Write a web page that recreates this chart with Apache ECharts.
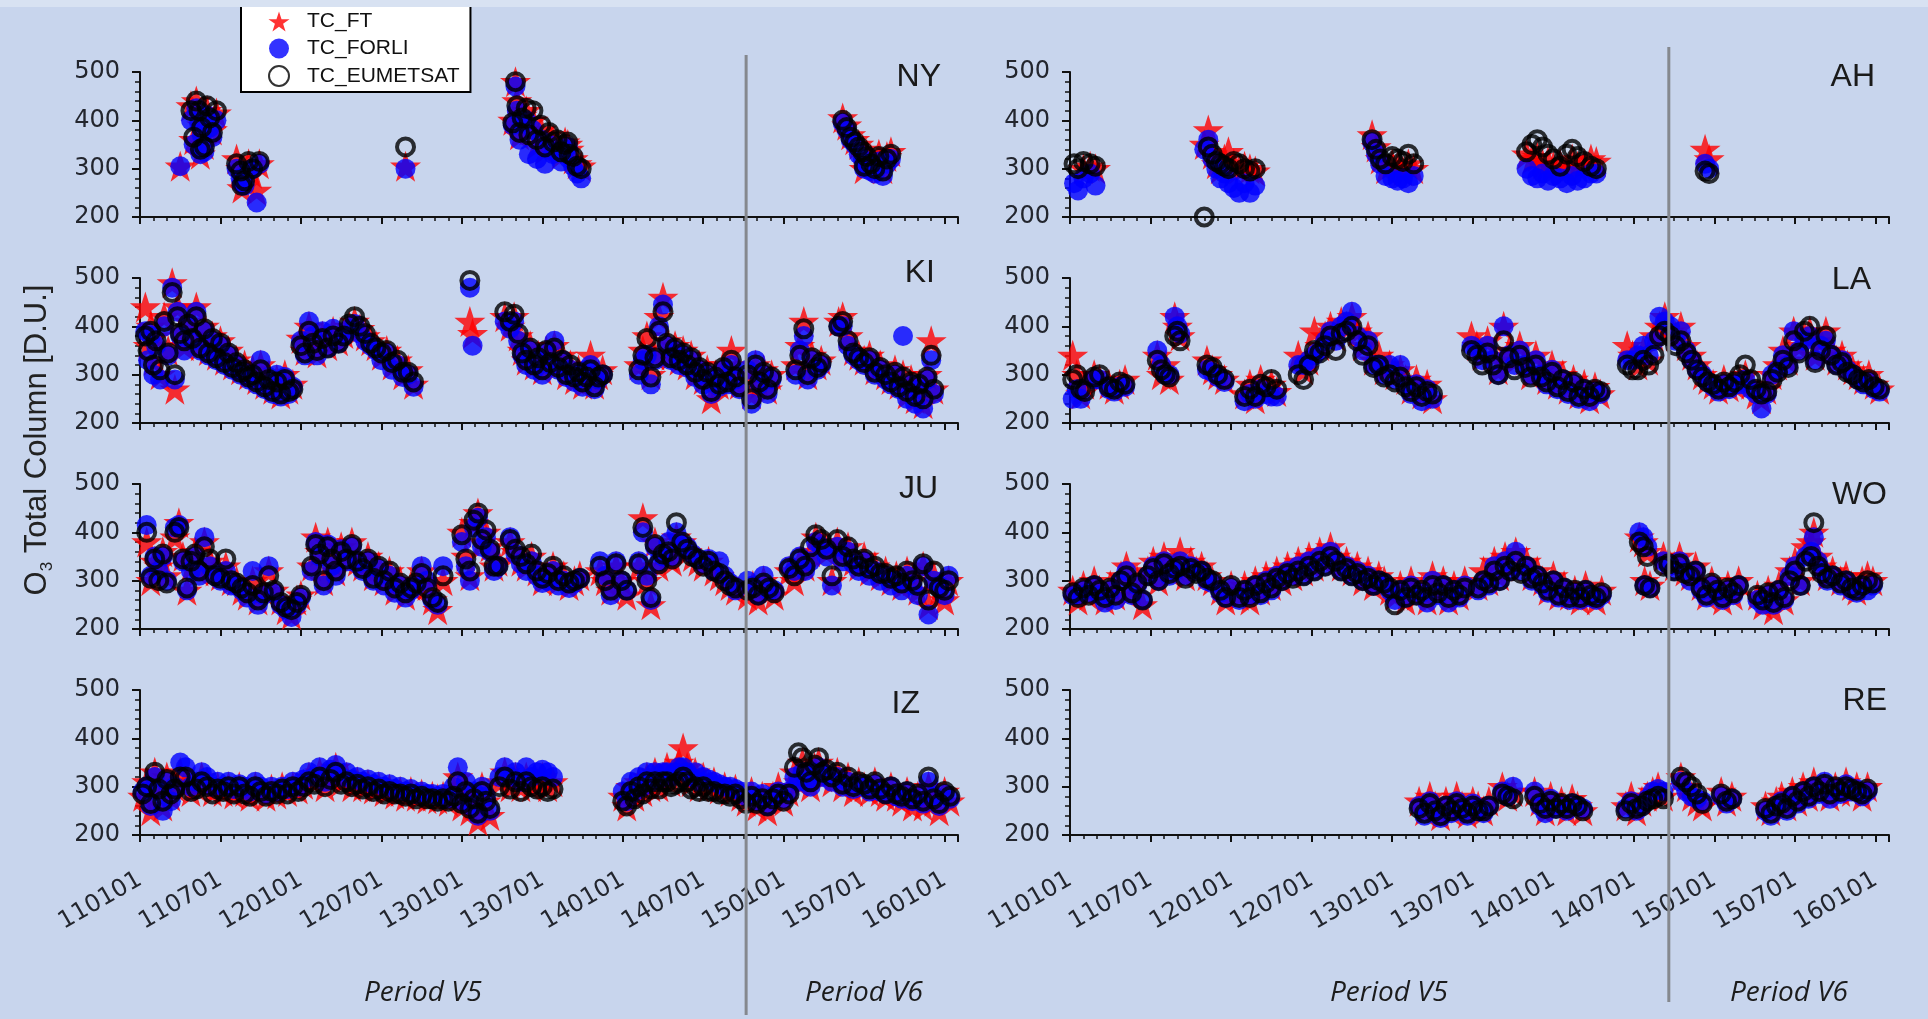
<!DOCTYPE html>
<html>
<head>
<meta charset="utf-8">
<script src="https://cdn.jsdelivr.net/npm/echarts@6/dist/echarts.min.js"></script>
<style>
html,body{margin:0;padding:0;background:#c8d5ed;}
#chart{width:1928px;height:1019px;}
</style>
</head>
<body>
<div id="chart"></div>
<script>
// ---- data: x = months since 2011-01-01; columns: [month, TC_FT, TC_FORLI, TC_EUMETSAT] ----
const SERIES_NAMES = ['TC_FT', 'TC_FORLI', 'TC_EUMETSAT'];
const TICK_LABELS = ['110101','110701','120101','120701','130101','130701','140101','140701','150101','150701','160101'];
const STATION_NAMES = ['NY', 'AH', 'KI', 'LA', 'JU', 'WO', 'IZ', 'RE'];
const PERIOD_LABELS = ['Period V5', 'Period V6'];
const VLINE = [45.2, 44.6]; // V5/V6 boundary (left column, right column), months

const NY = [
[3.0,305,305,null],[3.8,430,400,420],[4.0,360,350,365],[4.2,440,425,440],[4.4,410,395,420],[4.5,330,330,340],
[4.6,390,370,385],[4.8,350,335,345],[5.0,420,410,430],[5.2,400,385,405],[5.4,380,365,375],[5.7,415,400,420],
[7.2,320,300,310],[7.5,300,280,295],[7.6,260,270,265],[7.8,280,265,275],[8.1,310,295,315],[8.4,290,300,300],
[8.7,255,230,null],[8.9,310,310,315],[19.8,305,300,345],
[27.8,400,390,395],[28.0,480,470,480],[28.1,440,420,430],[28.3,370,360,375],[28.5,410,395,405],[28.8,420,400,425],
[29.0,380,330,370],[29.3,400,380,420],[29.6,350,320,360],[29.9,380,360,390],[30.2,340,310,345],[30.5,370,350,375],
[30.8,360,330,355],[31.1,350,335,360],[31.4,330,315,335],[31.7,355,340,350],[31.9,350,345,355],[32.0,340,320,330],
[32.3,320,305,325],[32.6,310,290,305],[32.9,305,280,300],
[52.4,405,395,400],[52.7,390,380,385],[53.0,370,360,365],[53.3,360,350,355],[53.6,350,330,345],[53.9,340,320,335],
[54.0,300,300,305],[54.2,330,310,325],[54.5,320,295,310],[54.8,310,290,300],[55.1,330,315,325],[55.4,300,285,295],
[55.7,325,310,320],[56.0,335,320,330]
];

const AH = [
[0.3,null,270,310],[0.6,null,255,300],[1.0,300,280,315],[1.5,305,290,310],[1.9,300,265,305],
[10.0,350,340,200],[10.3,380,360,345],[10.6,330,320,330],[10.9,310,300,315],[11.2,300,280,310],[11.5,320,290,305],
[11.8,335,270,300],[12.2,310,260,315],[12.6,300,250,310],[13.0,305,270,300],[13.4,300,250,295],[13.8,295,265,300],
[22.5,370,355,360],[22.8,345,330,340],[23.1,320,310,320],[23.5,300,285,310],[24.0,310,280,325],[24.4,305,275,320],
[24.8,295,280,315],[25.2,310,270,330],[25.6,300,285,310],
[34.0,330,300,335],[34.4,320,285,350],[34.8,325,280,360],[35.2,310,290,345],[35.6,315,275,330],[36.0,305,285,320],
[36.5,310,280,305],[37.0,300,270,330],[37.4,320,285,340],[37.8,305,275,325],[38.3,310,280,315],[38.8,320,290,305],
[39.2,315,290,300],[47.3,340,310,295],[47.6,320,300,290]
];

const KI = [
[0.4,440,390,380],[0.6,360,330,350],[0.8,400,380,390],[1.0,330,300,320],[1.2,380,360,370],[1.5,300,290,310],
[1.8,420,400,410],[2.1,350,340,345],[2.4,490,480,470],[2.6,270,290,300],[2.8,440,430,420],[3.0,390,380,385],
[3.3,360,350,370],[3.6,410,400,405],[3.9,380,370,375],[4.2,440,430,420],[4.5,360,350,355],[4.8,400,390,395],
[5.1,350,340,345],[5.4,380,370,375],[5.7,340,330,335],[6.0,370,360,365],[6.3,330,320,325],[6.6,350,340,345],
[6.9,320,310,315],[7.2,330,320,325],[7.5,310,300,305],[7.8,320,305,310],[8.1,300,290,295],[8.4,310,300,300],
[8.7,290,280,285],[9.0,320,330,310],[9.3,280,270,275],[9.6,300,295,290],[9.9,270,260,265],[10.2,290,300,285],
[10.5,260,255,260],[10.8,300,295,290],[11.1,270,260,265],[11.4,280,275,270],
[12.0,375,370,360],[12.3,350,340,345],[12.6,400,410,390],[12.9,370,380,365],[13.2,345,340,350],[13.6,380,390,375],
[14.0,360,355,355],[14.4,390,395,380],[14.8,370,365,365],[15.2,385,380,380],[15.6,400,395,405],[16.0,410,405,420],
[16.4,395,385,400],[16.8,380,370,385],[17.2,370,360,365],[17.6,360,350,355],[18.0,340,330,345],[18.4,350,345,350],
[18.8,320,310,325],[19.2,330,320,330],[19.6,300,295,305],[20.0,310,300,305],[20.4,280,275,285],
[24.6,410,480,495],[24.8,385,360,null],
[27.2,420,410,430],[27.6,400,395,410],[27.9,420,410,425],[28.2,380,370,385],[28.5,350,340,345],[28.8,330,320,330],
[29.1,360,350,355],[29.4,320,310,320],[29.7,340,330,335],[30.0,310,300,310],[30.3,350,345,350],[30.6,330,320,325],
[30.9,360,370,355],[31.2,320,310,315],[31.5,340,330,330],[31.8,300,295,300],[32.1,320,310,320],[32.4,290,285,295],
[32.7,310,300,305],[33.0,280,275,285],[33.3,300,310,295],[33.6,340,320,310],[33.9,280,270,275],[34.2,300,290,295],
[34.5,310,300,300],
[37.2,320,300,310],[37.5,350,330,340],[37.8,380,340,375],[38.1,300,280,295],[38.4,340,330,335],[38.7,420,400,390],
[39.0,460,445,430],[39.3,370,360,365],[39.6,340,330,335],[39.9,360,350,355],[40.2,330,320,330],[40.5,350,340,345],
[40.8,320,315,320],[41.1,340,330,335],[41.4,300,295,305],[41.7,320,310,315],[42.0,290,280,290],[42.3,310,300,305],
[42.6,250,260,265],[42.9,300,290,295],[43.2,280,275,280],[43.5,320,310,315],[43.8,290,280,285],[44.1,350,320,330],
[44.4,300,290,295],[44.7,280,270,275],
[45.3,300,310,300],[45.6,260,240,250],[45.9,320,330,320],[46.2,280,280,285],[46.5,310,300,305],[46.8,270,260,270],
[47.1,300,290,295],
[48.9,320,300,310],[49.2,360,350,340],[49.5,410,380,395],[49.8,300,290,300],[50.1,340,330,335],[50.5,320,310,315],
[50.8,330,320,325],[52.1,410,400,400],[52.4,420,400,410],[52.8,380,360,370],[53.2,350,340,345],[53.6,340,330,335],
[54.0,330,320,325],[54.4,340,330,335],[54.8,310,300,305],[55.2,320,310,315],[55.6,300,290,300],[56.0,290,280,285],
[56.3,310,300,305],[56.6,280,270,275],[56.9,300,380,295],[57.2,260,250,265],[57.5,290,280,285],[57.8,250,240,255],
[58.1,280,270,280],[58.4,240,230,250],[58.7,300,290,295],[59.0,370,330,340],[59.2,270,260,270]
];

const LA = [
[0.2,340,250,290],[0.5,300,270,300],[0.8,260,250,270],[1.1,280,null,265],
[1.8,300,290,295],[2.2,290,290,300],
[2.9,280,270,275],[3.3,270,265,270],[3.7,280,275,285],[4.1,290,275,280],
[6.5,340,350,330],[6.8,300,320,310],[7.1,320,300,300],[7.4,290,300,295],[7.8,420,420,380],[8.0,400,400,390],[8.2,380,385,370],
[10.2,330,310,320],[10.6,310,305,315],[11.0,300,295,300],[11.5,290,285,290],
[13.0,260,245,255],[13.4,280,260,270],[13.8,250,250,255],[14.2,290,270,280],[14.6,270,260,275],[15.0,280,255,290],[15.4,265,255,270],
[17.0,340,320,300],[17.4,310,320,290],[17.8,330,330,320],[18.2,390,340,350],[18.6,360,350,345],[19.0,380,370,360],
[19.4,400,390,380],[19.8,380,370,350],[20.2,410,400,385],[20.6,400,410,390],[21.0,420,430,400],[21.4,390,380,370],
[21.8,360,350,340],[22.2,380,370,360],[22.6,330,320,315],[23.0,340,320,320],[23.4,310,300,295],[23.8,320,320,300],
[24.2,300,290,285],[24.6,310,320,295],[25.0,290,280,275],[25.4,270,260,265],[25.8,290,280,275],[26.2,260,245,255],
[26.6,280,270,265],[27.0,250,250,260],
[29.9,380,360,350],[30.3,360,350,340],[30.7,340,330,320],[31.1,370,360,345],[31.5,340,330,320],[31.9,310,300,300],
[32.3,400,400,370],[32.7,350,340,335],[33.1,330,320,310],[33.5,360,350,340],[33.9,330,320,315],[34.3,300,300,295],
[34.7,340,330,320],[35.1,310,300,295],[35.5,290,280,285],[35.9,320,310,305],[36.3,280,270,275],[36.7,300,290,290],
[37.1,270,260,265],[37.5,290,280,285],[37.9,260,250,255],[38.3,280,270,270],[38.7,250,245,255],[39.1,275,265,270],
[39.5,260,260,265],
[41.5,360,330,320],[41.9,340,330,310],[42.3,320,340,310],[42.7,350,360,330],[43.1,330,340,320],[43.5,380,370,340],
[43.9,400,420,380],[44.3,420,410,390],[44.7,390,400,380],[45.1,380,370,360],[45.5,400,390,370],[45.9,360,350,345],
[46.3,340,330,330],[46.7,320,310,310],[47.1,300,300,295],[47.5,290,285,285],[47.9,280,275,280],[48.3,270,265,270],
[48.7,290,280,285],[49.1,275,270,275],[49.5,280,280,285],[49.9,290,280,300],[50.3,300,290,320],[50.7,280,270,290],
[51.1,260,260,270],[51.5,250,230,260],[51.9,270,260,265],
[52.3,300,300,290],[52.7,320,310,305],[53.1,350,340,330],[53.5,330,320,315],[53.9,390,390,370],[54.3,360,350,345],
[54.7,380,370,390],[55.1,390,380,400],[55.5,340,330,325],[55.9,370,360,350],[56.3,390,370,380],[56.7,350,340,340],
[57.1,330,320,320],[57.5,340,330,325],[57.9,320,310,305],[58.3,310,300,300],[58.7,300,290,290],[59.1,290,280,285],
[59.5,300,285,290],[59.9,280,270,275],[60.3,270,265,270]
];

const JU = [
[0.5,380,415,400],[0.8,300,310,305],[1.1,340,350,345],[1.4,330,320,300],[1.7,360,350,355],[2.0,310,300,295],
[2.6,390,410,400],[2.9,420,415,410],[3.2,350,340,345],[3.5,280,280,285],[3.8,330,320,340],[4.1,360,350,355],
[4.4,320,310,320],[4.8,380,390,370],[5.2,340,330,345],[5.6,320,310,310],[6.0,310,300,305],[6.4,330,320,345],
[6.8,300,290,300],[7.2,300,290,295],[7.6,280,280,285],[8.0,270,265,275],[8.4,300,320,290],[8.8,260,250,260],
[9.2,280,270,275],[9.6,320,330,310],[10.0,280,275,280],[10.5,260,250,255],[10.9,240,240,245],[11.3,230,225,240],
[11.7,260,250,255],[12.0,270,265,270],
[12.8,330,320,330],[13.1,390,380,375],[13.4,360,350,355],[13.7,300,290,300],[14.0,380,375,370],[14.3,340,330,345],
[14.6,320,310,320],[15.0,370,365,360],[15.4,350,340,345],[15.8,380,370,375],[16.2,340,335,340],[16.6,330,320,325],
[17.0,350,340,345],[17.4,310,300,305],[17.8,330,325,330],[18.2,300,290,300],[18.6,320,310,320],[19.0,280,275,285],
[19.4,300,290,295],[19.8,270,265,275],[20.2,290,280,285],[20.6,300,290,295],[21.0,320,330,315],[21.4,290,300,285],
[21.8,260,260,265],[22.2,240,250,255],[22.6,300,330,310],
[24.0,400,380,395],[24.3,350,330,345],[24.6,310,300,320],[24.9,420,410,425],[25.2,440,430,440],[25.5,380,370,385],
[25.8,400,390,405],[26.1,370,360,365],[26.4,330,320,330],[26.7,340,330,330],[27.6,380,390,385],[28.0,360,355,365],
[28.4,340,335,350],[28.8,330,320,335],[29.2,350,340,355],[29.6,320,310,320],[30.0,300,295,305],[30.4,310,300,315],
[30.8,330,320,330],[31.2,300,290,300],[31.6,310,300,310],[32.0,290,285,295],[32.4,300,295,300],[32.8,310,305,305],
[34.3,320,340,330],[34.7,300,310,300],[35.1,280,270,280],[35.5,330,340,335],[35.9,300,300,300],[36.3,270,280,280],
[37.2,330,340,335],[37.5,430,400,410],[37.8,300,310,300],[38.1,250,260,265],[38.4,380,370,375],[38.7,330,340,335],
[39.0,360,350,355],[39.4,350,380,360],[39.7,340,350,345],[40.0,390,400,420],[40.4,380,375,380],[40.8,360,370,365],
[41.2,350,355,350],[41.6,340,345,345],[42.0,330,335,330],[42.4,340,345,340],[42.8,320,320,320],[43.2,310,340,315],
[43.6,300,310,300],[44.0,290,295,290],[44.4,280,280,285],
[45.3,270,300,280],[45.7,290,290,285],[46.1,260,270,270],[46.5,300,310,295],[46.9,280,280,285],[47.3,270,280,275],
[48.4,320,330,325],[48.8,300,320,310],[49.2,340,350,345],[49.6,330,320,330],[50.0,360,340,370],[50.4,390,380,395],
[50.8,380,370,385],[51.2,360,350,365],[51.6,300,290,310],[52.0,380,370,385],[52.4,350,340,350],[52.8,370,360,370],
[53.2,340,335,345],[53.6,330,320,330],[54.0,350,340,345],[54.4,320,310,325],[54.8,330,320,330],[55.2,310,300,315],
[55.6,320,310,315],[56.0,300,290,305],[56.4,310,300,310],[56.8,290,280,295],[57.2,320,310,320],[57.6,300,290,300],
[58.0,280,270,290],[58.4,330,330,335],[58.8,250,230,260],[59.2,310,300,320],[59.6,280,290,285],[60.0,260,270,280],
[60.3,300,310,300]
];

const WO = [
[0.2,280,270,275],[0.6,260,270,265],[1.0,290,280,285],[1.4,270,275,270],[1.8,300,290,290],[2.2,280,270,280],
[2.6,260,255,265],[3.0,290,280,285],[3.4,270,260,270],[3.8,310,300,300],[4.2,330,320,310],[4.6,280,270,275],
[5.0,300,290,295],[5.4,250,260,260],
[5.8,320,310,310],[6.2,340,330,325],[6.6,300,300,300],[7.0,350,340,335],[7.4,320,310,315],[7.8,330,320,325],
[8.2,360,340,330],[8.6,310,310,305],[9.0,340,330,325],[9.4,320,320,315],[9.8,330,320,320],[10.2,310,300,305],
[10.6,300,295,300],[11.2,280,275,280],[11.6,260,265,265],[12.0,290,285,290],
[12.6,270,260,265],[13.0,290,280,280],[13.4,260,270,265],[13.8,300,290,290],[14.2,280,270,275],[14.6,310,300,295],
[15.0,290,280,285],[15.4,320,310,305],[15.8,300,300,300],[16.2,330,320,315],[16.6,310,310,305],[17.0,340,330,320],
[17.4,320,310,310],[17.8,350,340,330],[18.2,330,320,320],[18.6,360,350,340],[19.0,340,330,330],[19.4,370,360,350],
[19.8,350,340,340],[20.2,330,320,320],[20.6,340,330,325],[21.0,320,310,310],[21.4,330,320,315],[21.8,300,300,300],
[22.2,320,310,305],[22.6,290,290,290],[23.0,310,300,300],[23.4,300,295,295],[23.8,280,280,285],
[24.2,270,260,250],[24.6,290,280,280],[25.0,260,265,265],[25.4,300,290,285],[25.8,270,270,270],[26.2,280,275,280],
[26.6,260,255,265],[27.0,310,300,290],[27.4,280,270,275],[27.8,300,290,290],[28.2,260,255,265],[28.6,290,280,280],
[29.0,270,265,270],[29.4,300,290,285],
[30.4,290,280,285],[30.8,320,300,300],[31.2,300,290,295],[31.6,340,330,320],[32.0,310,300,300],[32.4,350,340,330],
[32.8,330,320,320],[33.2,360,360,340],[33.6,330,320,315],[34.0,340,330,330],[34.4,310,300,305],[34.8,320,310,310],
[35.2,300,290,295],[35.6,280,275,280],[36.0,310,300,300],[36.4,270,265,270],[36.8,290,285,285],[37.2,270,260,265],
[37.6,280,275,280],[38.0,260,260,265],[38.4,290,280,280],[38.8,270,265,270],[39.2,260,260,265],[39.6,280,270,275],
[42.4,390,400,380],[42.7,380,390,370],[43.0,360,370,350],[42.8,300,290,290],[43.2,290,285,285],
[44.2,350,340,330],[44.6,340,330,335],[45.0,330,320,320],[45.4,350,340,335],[45.8,320,320,315],[46.2,310,300,310],
[46.6,330,320,320],[47.0,290,280,285],[47.4,270,265,270],[47.8,300,290,295],[48.2,280,275,280],[48.6,260,260,265],
[49.0,290,280,285],[49.4,270,270,275],[49.8,300,290,290],
[51.2,270,260,270],[51.6,250,250,260],[52.0,280,270,275],[52.4,240,250,255],[52.8,290,280,280],[53.2,260,260,265],
[53.6,320,310,300],[54.0,340,330,320],[54.4,300,290,290],[54.8,370,350,340],[55.2,380,360,350],[55.4,400,390,420],
[55.7,350,340,330],[56.0,330,320,315],[56.4,310,300,305],[56.8,320,310,310],[57.4,300,290,295],[57.8,310,300,300],
[58.2,290,280,285],[58.6,280,275,280],[59.0,300,290,290],[59.4,310,280,300],[59.8,300,290,295]
];

const IZ = [
[0.2,280,290,285],[0.5,310,300,300],[0.8,250,260,265],[1.1,330,320,330],[1.4,300,290,295],[1.7,260,250,270],
[2.0,320,310,315],[2.3,280,270,285],[2.6,300,300,295],
[3.0,330,350,320],[3.4,310,340,320],[3.8,290,300,290],[4.2,300,310,295],[4.6,320,330,310],[5.0,310,320,300],
[5.4,290,300,285],[5.8,300,310,295],[6.2,290,300,290],[6.6,300,310,300],[7.0,285,295,285],[7.4,300,305,300],
[7.8,290,300,285],[8.2,280,290,280],[8.6,300,310,300],[9.0,290,300,290],[9.4,280,285,280],[9.8,295,300,290],
[10.2,285,290,285],[10.6,300,300,295],[11.0,290,295,285],[11.4,300,310,300],[11.8,295,300,290],[12.2,305,315,300],
[12.6,320,330,310],[13.0,310,320,305],[13.4,330,340,320],[13.8,300,310,300],[14.2,320,335,315],[14.6,340,345,330],
[15.0,310,320,305],[15.4,320,330,310],[15.8,300,315,300],[16.2,310,320,305],[16.6,300,310,295],[17.0,305,315,300],
[17.4,295,305,290],[17.8,300,310,295],[18.2,290,300,285],[18.6,295,305,290],[19.0,285,295,285],[19.4,290,300,285],
[19.8,280,290,280],[20.2,290,295,285],[20.6,280,285,275],[21.0,285,290,280],[21.4,275,285,275],[21.8,280,285,275],
[22.2,275,280,270],[22.6,280,285,275],[23.0,270,275,270],
[23.4,290,300,280],[23.7,320,340,310],[24.0,260,270,265],[24.3,300,310,290],[24.6,250,260,255],[24.9,280,290,275],
[25.2,230,240,245],[25.5,300,300,290],[25.8,270,280,270],[26.1,240,250,255],
[26.8,310,320,300],[27.2,330,340,320],[27.6,300,320,295],[28.0,320,330,310],[28.4,300,310,290],[28.8,320,340,310],
[29.2,300,320,300],[29.6,310,330,295],[30.0,320,335,300],[30.4,300,330,290],[30.8,310,320,295],
[36.0,280,290,270],[36.3,260,270,260],[36.6,300,310,290],[36.9,280,290,275],[37.2,310,320,300],[37.5,290,300,285],
[37.8,320,330,310],[38.1,300,310,295],[38.4,330,330,310],[38.7,300,315,295],[39.0,320,330,310],[39.3,340,330,310],
[39.6,310,320,300],[39.9,330,330,305],[40.2,350,340,310],[40.5,380,340,320],[40.8,340,330,310],[41.1,310,320,295],
[41.4,330,330,300],[41.7,300,310,290],[42.0,320,320,300],[42.4,300,315,290],[42.8,310,310,290],[43.2,295,305,285],
[43.6,300,300,285],[44.0,290,300,280],[44.4,295,295,285],[44.8,280,290,275],
[45.2,270,280,265],[45.6,290,290,280],[46.0,260,270,265],[46.4,280,285,275],[46.8,250,260,260],[47.2,280,280,275],
[47.6,300,290,285],[48.0,270,275,270],[48.4,290,290,285],
[48.8,330,320,340],[49.1,310,310,370],[49.4,350,330,360],[49.7,320,310,330],[50.0,300,300,310],[50.3,340,330,345],
[50.6,350,340,360],[50.9,320,320,330],[51.2,330,325,335],
[51.6,310,310,320],[52.0,330,320,330],[52.4,300,300,305],[52.8,320,310,320],[53.2,290,295,300],[53.6,310,305,310],
[54.0,300,300,305],[54.4,290,290,295],[54.8,310,305,310],[55.2,290,290,295],[55.6,280,285,285],[56.0,300,300,300],
[56.4,280,280,285],[56.8,270,275,280],[57.2,290,290,290],[57.6,260,270,275],[58.0,280,280,285],[58.4,260,265,270],
[58.8,300,310,320],[59.2,270,280,275],[59.6,250,260,265],[60.0,290,285,290],[60.4,270,275,280]
];

const RE = [
[26.0,270,260,255],[26.4,250,240,245],[26.8,280,270,265],[27.2,260,250,250],[27.6,240,235,240],[28.0,270,260,260],
[28.4,250,245,250],[28.8,280,270,265],[29.2,260,250,255],[29.6,245,240,245],[30.0,270,265,260],[30.4,260,255,250],
[30.8,250,245,250],[31.2,270,260,260],
[32.2,300,290,285],[32.6,280,280,280],[33.0,290,300,275],
[34.6,290,290,280],[35.0,270,260,265],[35.4,250,245,255],[35.8,280,275,270],[36.2,260,255,255],[36.6,270,260,265],
[37.0,250,250,255],[37.4,275,265,265],[37.8,260,260,260],[38.2,250,255,250],
[41.4,260,255,250],[41.8,280,270,265],[42.2,250,250,255],[42.6,270,260,260],[43.0,280,275,270],[43.4,290,290,275],
[43.8,300,295,280],[44.2,280,290,275],
[45.5,320,310,320],[45.9,300,290,310],[46.3,280,280,300],[46.7,270,275,285],[47.1,260,270,265],
[48.5,290,280,285],[48.9,270,265,270],[49.3,280,275,275],
[51.8,260,250,255],[52.2,250,240,245],[52.6,270,260,260],[53.0,280,270,265],[53.4,260,250,255],[53.8,290,280,280],
[54.2,270,265,270],[54.6,300,290,290],[55.0,280,275,280],[55.4,310,300,300],[55.8,290,285,290],[56.2,300,310,305],
[56.6,280,275,285],[57.0,300,295,300],[57.4,290,285,290],[57.8,310,305,300],[58.2,290,290,295],[58.6,300,295,290],
[59.0,280,280,285],[59.4,300,290,295]
];

const STATION_ROWS = {NY, AH, KI, LA, JU, WO, IZ, RE};

// ---- layout ----
const GRID_LEFT = [140, 1070];
const GRID_WIDTH = [818, 819];
const GRID_TOP0 = 72, ROW_STEP = 206, GRID_H = 145;
const X_MAX = 61;
const STAR = 'path://M50,0 L61.8,35.5 L99,35.5 L69,57.5 L80.5,93 L50,71 L19.5,93 L31,57.5 L1,35.5 L38.2,35.5 Z';

const AXIS_COLOR = '#111';
const TEXT_COLOR = '#23262e';

const seriesStyles = [
  {symbol: STAR, symbolSize: 31, itemStyle: {color: '#ff0000'}},
  {symbol: 'circle', symbolSize: 20, itemStyle: {color: '#0000ff'}},
  {symbol: 'circle', symbolSize: 17, itemStyle: {color: 'rgba(0,0,0,0)', borderColor: '#000', borderWidth: 4}}
];

const grids = [], xAxes = [], yAxes = [], series = [];
STATION_NAMES.forEach((name, i) => {
  const col = i % 2, row = Math.floor(i / 2);
  grids.push({left: GRID_LEFT[col], width: GRID_WIDTH[col], top: GRID_TOP0 + row * ROW_STEP, height: GRID_H});
  xAxes.push({
    gridIndex: i, type: 'value', min: 0, max: X_MAX, interval: 6,
    axisLine: {show: true, onZero: false, lineStyle: {color: AXIS_COLOR, width: 2}},
    axisTick: {show: true, length: 7, lineStyle: {color: AXIS_COLOR, width: 2}},
    minorTick: {show: true, splitNumber: 6, length: 4, lineStyle: {color: AXIS_COLOR, width: 1.5}},
    splitLine: {show: false},
    axisLabel: {
      show: row === 3, rotate: 30, margin: 43,
      fontFamily: 'DejaVu Sans', fontSize: 24, color: TEXT_COLOR,
      formatter: v => (v % 6 === 0 ? TICK_LABELS[v / 6] : '')
    }
  });
  yAxes.push({
    gridIndex: i, type: 'value', min: 200, max: 500, interval: 100,
    axisLine: {show: true, onZero: false, lineStyle: {color: AXIS_COLOR, width: 2}},
    axisTick: {show: true, length: 8, lineStyle: {color: AXIS_COLOR, width: 2}},
    minorTick: {show: true, splitNumber: 5, length: 5, lineStyle: {color: AXIS_COLOR, width: 1.5}},
    splitLine: {show: false},
    axisLabel: {margin: 20, fontFamily: 'DejaVu Sans', fontSize: 24, color: TEXT_COLOR}
  });
  const rows = STATION_ROWS[name];
  SERIES_NAMES.forEach((sn, k) => {
    series.push(Object.assign({
      type: 'scatter', name: sn, xAxisIndex: i, yAxisIndex: i,
      data: rows.filter(r => r[k + 1] != null).map(r => [r[0], r[k + 1]])
    }, seriesStyles[k]));
  });
});

const chart = echarts.init(document.getElementById('chart'));
chart.setOption({
  animation: false,
  backgroundColor: '#c8d5ed',
  grid: grids, xAxis: xAxes, yAxis: yAxes, series: series,
  legend: {
    data: SERIES_NAMES, orient: 'vertical', left: 241, top: 0,
    padding: [11, 11, 5, 27], itemGap: 6, itemWidth: 26, itemHeight: 20,
    backgroundColor: '#ffffff', borderColor: '#000', borderWidth: 2, borderRadius: 0,
    textStyle: {fontFamily: 'Liberation Sans', fontSize: 21, color: '#111', padding: [0, 0, 0, 10]}
  }
});

// ---- decorations (positions from layout; vertical lines placed through the axis scale) ----
const labelPos = [
  [941, 77], [1875, 77], [935, 273], [1871, 280], [938, 489], [1887, 495], [920, 704], [1887, 701]
];
const graphics = [];
graphics.push({type: 'rect', z: 100, shape: {x: 0, y: 0, width: 1928, height: 7}, style: {fill: '#d8e2f2'}});
STATION_NAMES.forEach((name, i) => {
  graphics.push({type: 'text', z: 20, x: labelPos[i][0], y: labelPos[i][1],
    style: {text: name, font: '32px "Liberation Sans Narrow", "Liberation Sans", sans-serif', fill: '#1a1a1a', align: 'right', verticalAlign: 'middle'}});
});
graphics.push({type: 'text', z: 20, x: 37, y: 440, rotation: Math.PI / 2,
  style: {
    text: '{a|O}{s|3}{a| Total Column [D.U.]}', align: 'center', verticalAlign: 'middle',
    rich: {
      a: {fontSize: 31, fontFamily: 'Liberation Sans', fill: '#222', color: '#222', lineHeight: 38, verticalAlign: 'middle'},
      s: {fontSize: 17, fontFamily: 'Liberation Sans', fill: '#222', color: '#222', lineHeight: 38, verticalAlign: 'bottom'}
    }
  }});
const periodPos = [[423, 993], [864, 993], [1389, 993], [1789, 993]];
periodPos.forEach((p, j) => {
  graphics.push({type: 'text', z: 20, x: p[0], y: p[1],
    style: {text: PERIOD_LABELS[j % 2], font: 'italic 28px "Open Sans", sans-serif', fill: '#1c1c1c', align: 'center', verticalAlign: 'middle'}});
});
const xL = chart.convertToPixel({xAxisIndex: 0}, VLINE[0]);
const xR = chart.convertToPixel({xAxisIndex: 1}, VLINE[1]);
graphics.push({type: 'line', z: 50, shape: {x1: xL, y1: 55, x2: xL, y2: 1015}, style: {stroke: '#85888e', lineWidth: 3}});
graphics.push({type: 'line', z: 50, shape: {x1: xR, y1: 47, x2: xR, y2: 1002}, style: {stroke: '#85888e', lineWidth: 3}});
chart.setOption({graphic: graphics});
</script>
</body>
</html>
